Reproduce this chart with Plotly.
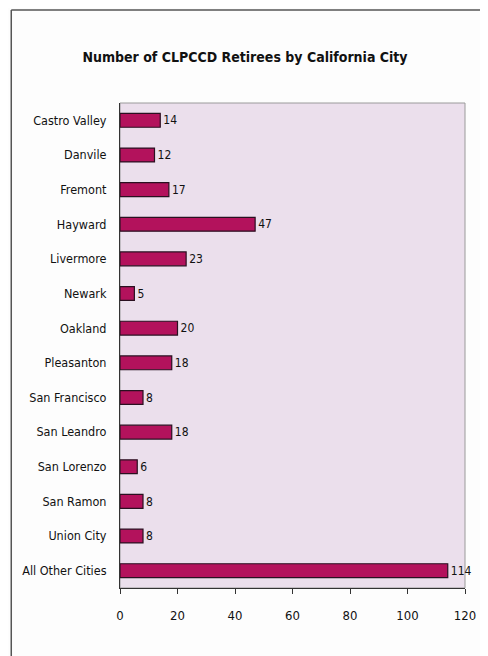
import plotly.graph_objects as go

cities = ["Castro Valley", "Danvile", "Fremont", "Hayward", "Livermore", "Newark",
          "Oakland", "Pleasanton", "San Francisco", "San Leandro", "San Lorenzo",
          "San Ramon", "Union City", "All Other Cities"]
retirees = [14, 12, 17, 47, 23, 5, 20, 18, 8, 18, 6, 8, 8, 114]
x_ticks = [0, 20, 40, 60, 80, 100, 120]

FONT = "DejaVu Sans Condensed, Liberation Sans Narrow, Arial Narrow, sans-serif"

# page body adds an 8px offset; figure is sized so the page looks 488x656
W, H = 480, 648
L, T, PW, PH = 112, 95, 349, 485

fig = go.Figure(go.Bar(
    y=cities, x=retirees, orientation="h", width=0.4,
    marker=dict(color="#b3125c", line=dict(color="#2a1020", width=1.2)),
    text=[str(v) for v in retirees], textposition="outside", cliponaxis=False,
    textfont=dict(color="#111", size=13, family=FONT),
))

fig.update_layout(
    width=W, height=H,
    margin=dict(l=L, r=W - L - PW, t=T, b=H - T - PH),
    paper_bgcolor="#fdfdfd", plot_bgcolor="#ebdfec",
    font=dict(family=FONT, color="#111", size=12),
    title=dict(text="Number of CLPCCD Retirees by California City",
               x=237 / W, xanchor="center", y=1 - 49 / H, yanchor="middle",
               font=dict(size=14, family=FONT, color="#111", weight="bold")),
    showlegend=False,
)
fig.update_xaxes(range=[0, 120], tickvals=x_ticks, ticks="outside", ticklen=5,
                 tickcolor="#333", showgrid=False, zeroline=False,
                 showline=True, linecolor="#333", linewidth=1,
                 tickfont=dict(size=13, family=FONT), ticklabelstandoff=10)
fig.update_yaxes(categoryorder="array", categoryarray=cities[::-1],
                 showgrid=False, zeroline=False, showline=True, linecolor="#333",
                 linewidth=1, ticks="", tickfont=dict(size=12.5, family=FONT),
                 ticklabelstandoff=10)
# plot area border (top/right) and page border
fig.add_shape(type="rect", xref="paper", yref="paper", x0=0, y0=0, x1=1, y1=1,
              line=dict(color="#9a9a9a", width=1), layer="below")
bx = (2 - L) / PW
by = (T + PH - 2) / PH
fig.add_shape(type="line", xref="paper", yref="paper",
              x0=bx, x1=bx, y0=by, y1=-0.2,
              line=dict(color="#555", width=1.5))
fig.add_shape(type="line", xref="paper", yref="paper",
              x0=bx, x1=1.2, y0=by, y1=by,
              line=dict(color="#555", width=1.5))

fig.write_html("out.html")
